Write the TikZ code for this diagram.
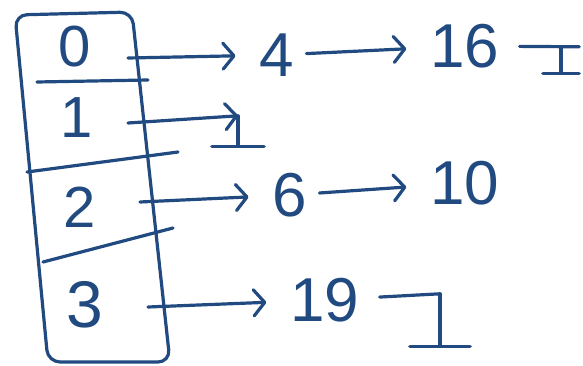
\documentclass[tikz,border=0pt]{standalone}
\usepackage{fontspec}
\setmainfont{Liberation Sans}
\usepackage{tikz}
\usetikzlibrary{arrows.meta}
\definecolor{ink}{RGB}{33,74,128}

\tikzset{
  pen/.style={ink,line width=3.2pt,line cap=round,line join=round},
  slot/.style={inner sep=1pt,text=ink,font=\fontsize{58}{60}\selectfont},
  item/.style={inner ysep=1pt,inner xsep=12pt,text=ink,font=\fontsize{62}{66}\selectfont},
  link/.style={pen,shorten >=12pt,-{Straight Barb[length=11pt,width=26pt,round]}},
  nil/.style={inner sep=0pt,minimum width=#1,minimum height=26pt},
  nil/.default=40pt
}

\begin{document}
\begin{tikzpicture}[x=1pt,y=-1pt]
  \useasboundingbox (0,0) rectangle (583,366);

  % the table
  \draw[pen,rounded corners=12pt] (15,15) -- (132,12) -- (170,362) -- (48,362) -- cycle;
  \draw[pen] (37,82) -- (148,80);
  \draw[pen] (27,172) -- (178,152);
  \draw[pen] (43,262) -- (173,228);
  \node[slot] (c0) at (75,47) {0};
  \node[slot] (c1) at (77,118) {1};
  \node[slot] (c2) at (80,207) {2};
  \node[slot,font=\fontsize{66}{70}\selectfont] (c3) at (85,305) {3};

  \coordinate (s0) at (128,58);
  \coordinate (s1) at (128,123);
  \coordinate (s2) at (140,202);
  \coordinate (s3) at (148,307);

  % the chains
  \node[item] (e4) at (277,55) {4};
  \node[item] (e16) at (465,46) {16};
  \node[item] (e6) at (290,195) {6};
  \node[item] (e10) at (465,183) {10};
  \node[item] (e19) at (325,300) {19};

  \node[nil=36pt] (z0) at (561,60) {};
  \node[nil=52pt,minimum height=30pt] (z1) at (238,131) {};
  \node[nil=60pt,minimum height=52pt] (z3) at (440,320) {};

  \draw[link] (s0) -- (e4);
  \draw[link] (e4) -- (e16);
  \draw[pen,shorten <=8pt] (e16) -- (z0.north east);
  \draw[pen] (z0.north) -- (z0.south);
  \draw[pen] (z0.south west) -- (z0.south east);

  \draw[link,shorten >=0pt] (s1) -- (z1.north);
  \draw[pen] (z1.north) -- (z1.south);
  \draw[pen] (z1.south west) -- (z1.south east);

  \draw[link] (s2) -- (e6);
  \draw[link] (e6) -- (e10);

  \draw[link] (s3) -- (e19);
  \draw[pen,shorten <=8pt] (e19) -- (z3.north);
  \draw[pen] (z3.north) -- (z3.south);
  \draw[pen] (z3.south west) -- (z3.south east);
\end{tikzpicture}
\end{document}
